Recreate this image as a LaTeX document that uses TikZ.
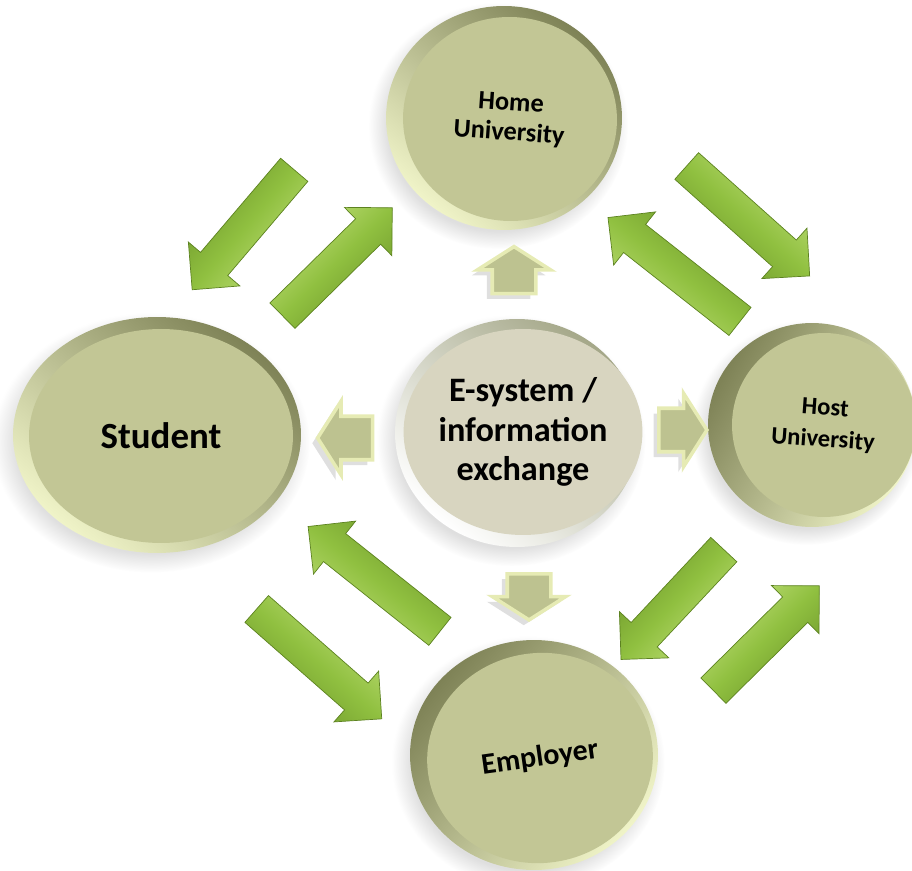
\documentclass[tikz,border=0pt]{standalone}
\usepackage{fontspec}
\setmainfont{Carlito}
\usepackage{tikz}
\usetikzlibrary{shapes.geometric, shapes.arrows, shadows}
\definecolor{faceOlive}{HTML}{C2C695}
\definecolor{faceBeige}{HTML}{D8D5C0}
\definecolor{rimLight}{HTML}{F0F4C8}
\definecolor{rimDark}{HTML}{7E8256}
\definecolor{arrowLight}{HTML}{C2E07C}
\definecolor{arrowMid}{HTML}{90C040}
\definecolor{arrowDark}{HTML}{5C8220}
\definecolor{smallFill}{HTML}{BDC290}
\definecolor{smallEdge}{HTML}{E6EBB4}

\tikzset{
  rim/.style={ellipse, inner sep=0pt, top color=rimDark, bottom color=rimLight,
    circular drop shadow={shadow xshift=-3pt, shadow yshift=-4pt, opacity=0.25}},
  face/.style={ellipse, inner sep=0pt, fill=faceOlive, align=center},
  garrow/.style={single arrow, inner xsep=0pt, inner ysep=0.35cm,
    single arrow head extend=0.32cm, top color=arrowLight, bottom color=arrowDark!70!arrowMid,
    middle color=arrowMid, draw=arrowDark, thin, rotate=#1, shading angle=#1},
  sarrow/.style={single arrow, inner xsep=0pt, inner ysep=0.4cm,
    single arrow head extend=0.3cm, single arrow tip angle=115, fill=smallFill,
    draw=smallEdge, line width=2pt,
    drop shadow={shadow xshift=-3pt, shadow yshift=-3pt, opacity=0.25}},
}

\begin{document}
\begin{tikzpicture}[x=0.02cm, y=-0.02cm]
    \useasboundingbox (0,0) rectangle (912,871);

    % the five bubbles
    \node[rim, minimum width=4.72cm, minimum height=4.48cm, shading angle=-40] (homeRim) at (504,118) {};
    \node[face, minimum width=4.28cm, minimum height=4.08cm, rotate=-4,
          font=\fontsize{15}{17}\selectfont\bfseries] (home) at (510,119) {Home\\University};

    \node[rim, minimum width=5.76cm, minimum height=4.72cm, shading angle=-40] (studentRim) at (157,435) {};
    \node[face, minimum width=5.28cm, minimum height=4.28cm,
          font=\fontsize{21}{24}\selectfont\bfseries] (student) at (161,436) {Student};

    \node[rim, minimum width=4.88cm, minimum height=4.56cm, top color=rimDark!70, bottom color=white,
          shading angle=-40] (esysRim) at (517,433) {};
    \node[face, minimum width=4.4cm, minimum height=4.12cm, fill=faceBeige,
          font=\fontsize{19.5}{22.5}\selectfont\bfseries] (esys) at (523,432) {E-system /\\information\\exchange};

    \node[rim, minimum width=4.16cm, minimum height=4.08cm, shading angle=60] (hostRim) at (812,425) {};
    \node[face, minimum width=3.68cm, minimum height=3.68cm, rotate=-4,
          font=\fontsize{14}{18}\selectfont\bfseries] (host) at (824,425) {Host\\University};

    \node[rim, minimum width=4.96cm, minimum height=4.6cm, shading angle=50] (employerRim) at (534,755) {};
    \node[face, minimum width=4.52cm, minimum height=4.2cm, rotate=8,
          font=\fontsize{17}{20}\selectfont\bfseries] (employer) at (540,758) {Employer};

    % green arrows between the bubbles
    \node[garrow=229.6, minimum height=3.15cm] (homeStudent) at (249,223) {};
    \node[garrow=44.5, minimum height=3.08cm] (studentHome) at (331,268) {};
    \node[garrow=-41.8, minimum height=3.3cm] (homeHost) at (741.5,215) {};
    \node[garrow=141.8, minimum height=3.36cm] (hostHome) at (681,275) {};
    \node[garrow=141.5, minimum height=3.37cm] (employerStudent) at (381,584.5) {};
    \node[garrow=-41.3, minimum height=3.33cm] (studentEmployer) at (312.5,658) {};
    \node[garrow=226.9, minimum height=3.01cm] (hostEmployer) at (678.5,598) {};
    \node[garrow=44.7, minimum height=2.98cm] (employerHost) at (760,644.5) {};

    % small arrows out of the e-system
    \node[sarrow, minimum height=0.94cm, rotate=90] (exUp) at (514,277) {};
    \node[sarrow, minimum height=1.1cm, rotate=180] (exLeft) at (352,438) {};
    \node[sarrow, minimum height=0.96cm] (exRight) at (676,430) {};
    \node[sarrow, minimum height=0.92cm, rotate=-90] (exDown) at (529,590) {};
\end{tikzpicture}
\end{document}
